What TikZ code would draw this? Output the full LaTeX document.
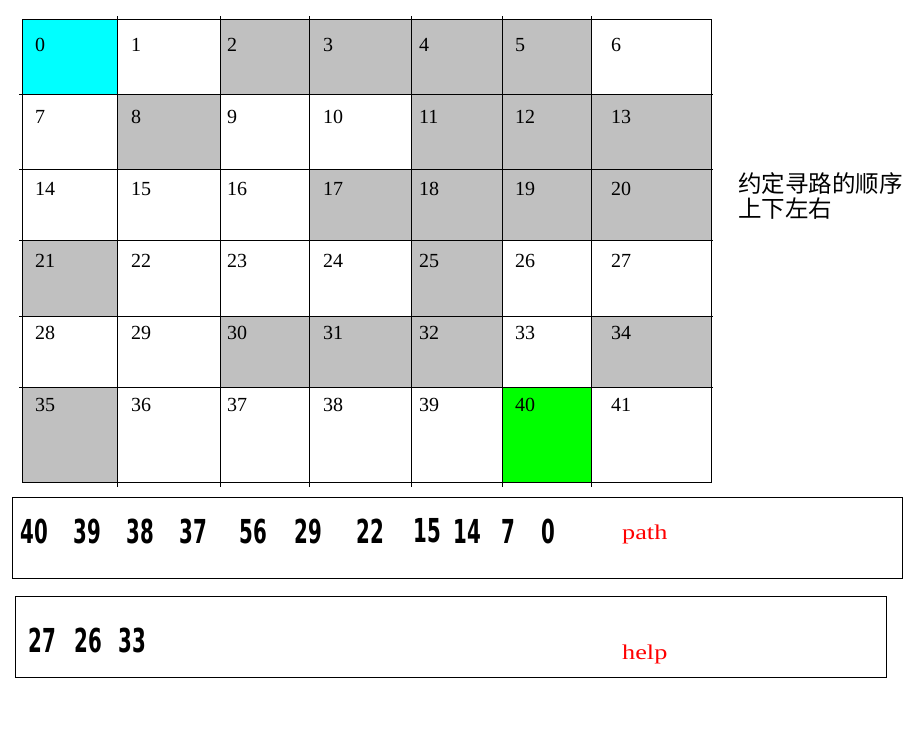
\documentclass[tikz,border=0pt]{standalone}
\usepackage{fontspec}
\setmainfont{Liberation Serif}
\newfontfamily\cjk{Noto Sans CJK SC}
\newfontfamily\hand{DejaVu Sans}
\definecolor{cellgray}{HTML}{C0C0C0}
\definecolor{cellcyan}{HTML}{00FFFF}
\definecolor{cellgreen}{HTML}{00FF00}
\tikzset{
  gridline/.style={line width=1pt, black},
  boxline/.style={line width=1pt, black},
  cellnum/.style={anchor=base west, inner sep=0pt, font=\fontsize{20}{24}\selectfont},
  handnum/.style={inner sep=0pt, font=\hand\bfseries\fontsize{33}{36}\selectfont},
  redlabel/.style={anchor=base west, inner sep=0pt, text=red, font=\fontsize{21}{24}\selectfont},
  cntext/.style={anchor=west, inner sep=0pt, font=\cjk\fontsize{23.5}{26}\selectfont}
}
\begin{document}
\begin{tikzpicture}[x=1pt,y=-1pt]
\useasboundingbox[fill=white] (0,0) rectangle (917,742);
% column and row boundaries
\def\xs{{22,117,220,309,411,502,591,711}}
\def\ys{{19,94,169,240,316,387,482}}
% filled cells: index/color
\foreach \k/\col in {0/cellcyan,2/cellgray,3/cellgray,4/cellgray,5/cellgray,
  8/cellgray,11/cellgray,12/cellgray,13/cellgray,
  17/cellgray,18/cellgray,19/cellgray,20/cellgray,
  21/cellgray,25/cellgray,
  30/cellgray,31/cellgray,32/cellgray,34/cellgray,
  35/cellgray,40/cellgreen}{
  \pgfmathtruncatemacro{\r}{int(\k/7)}
  \pgfmathtruncatemacro{\c}{\k-7*\r}
  \pgfmathsetmacro{\xa}{\xs[\c]}
  \pgfmathsetmacro{\xb}{\xs[\c+1]}
  \pgfmathsetmacro{\ya}{\ys[\r]}
  \pgfmathsetmacro{\yb}{\ys[\r+1]}
  \fill[\col] (\xa,\ya) rectangle (\xb,\yb);
}
% outer frame
\draw[gridline] (22,19) rectangle (711,482);
% interior vertical lines (slight overshoot)
\foreach \x in {117,220,309,411,502,591}{
  \draw[gridline] (\x,16) -- (\x,487);
}
% interior horizontal lines (slight overshoot)
\foreach \y in {94,169,240,316,387}{
  \draw[gridline] (19,\y) -- (713,\y);
}
% cell numbers
\foreach \r in {0,...,5}{
  \foreach \c in {0,...,6}{
    \pgfmathtruncatemacro{\k}{7*\r+\c}
    \node[cellnum] (c\k) at ({35+96*\c},{51+72*\r}) {\k};
  }
}
% Chinese note
\node[cntext] (cn1) at (738,184) {约定寻路的顺序};
\node[cntext] (cn2) at (738,209) {上下左右};
% path box
\draw[boxline] (12,497) rectangle (902,578);
\foreach \t/\x in {40/34,39/87,38/140,37/193,56/253,29/308,22/370,15/427,14/467,7/508,0/548}{
  \node[handnum] (p\t) at (\x,531) {\scalebox{0.6}[1]{\t}};
}
\node[redlabel] (pathlbl) at (622,539) {\scalebox{1.25}[1]{path}};
% help box
\draw[boxline] (15,596) rectangle (886,677);
\foreach \t/\x in {27/42,26/88,33/132}{
  \node[handnum] (h\t) at (\x,640) {\scalebox{0.6}[1]{\t}};
}
\node[redlabel] (helplbl) at (622,659) {\scalebox{1.25}[1]{help}};
\end{tikzpicture}
\end{document}
